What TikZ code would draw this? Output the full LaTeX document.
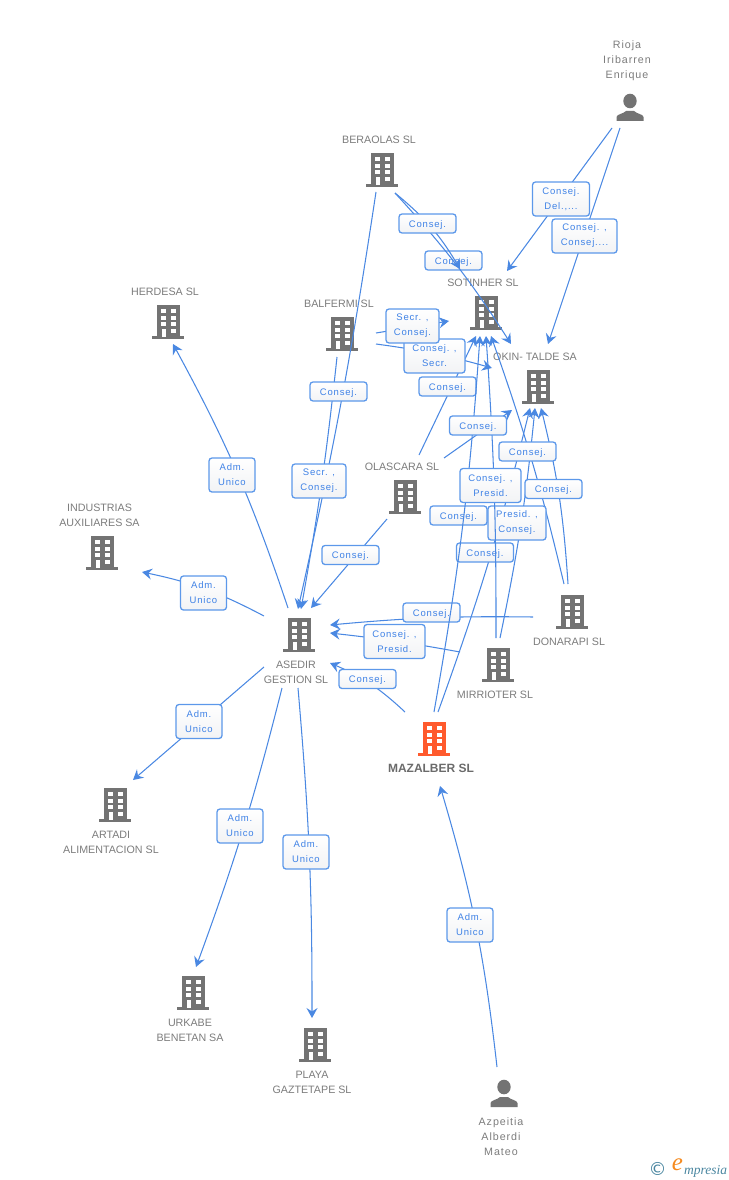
\documentclass[tikz,border=0pt]{standalone}
\usepackage{fontspec}
\usetikzlibrary{calc,arrows.meta}
\setmainfont{Liberation Sans}
\newfontfamily\lblfont[LetterSpace=8.5]{Liberation Sans}
\newfontfamily\lowfont[LetterSpace=9]{Liberation Sans}
\newfontfamily\logofont{Liberation Serif}
\newfontfamily\symfont{DejaVu Sans}
\definecolor{bgray}{HTML}{737373}
\definecolor{borange}{HTML}{FF5A2D}
\definecolor{edgeblue}{HTML}{4A88E2}
\definecolor{boxblue}{HTML}{5C98EA}
\definecolor{lbltext}{HTML}{3F82E6}
\definecolor{nametext}{HTML}{7C7C7C}
\definecolor{teal}{HTML}{4A86A0}
\definecolor{logoorange}{HTML}{F58A1F}
\definecolor{boxlow}{HTML}{F2F3F5}
\tikzset{
  site/.style={inner sep=0pt,minimum width=32,minimum height=34},
  conn/.style={draw=edgeblue,line width=1.05pt,-{Stealth[length=10pt,width=11pt,inset=3.5pt]}},
  lbl/.style={draw=boxblue,line width=1.3pt,rounded corners=3pt,top color=white,bottom color=boxlow,
    inner sep=0pt,minimum width=57,minimum height=19,align=center,text=lbltext,
    font=\lblfont\fontsize{9.5}{15}\selectfont,execute at begin node={\rule{0pt}{9.5pt}}},
  lbltwo/.style={lbl,minimum height=34,execute at begin node={\rule{0pt}{11.5pt}}},
  unameup/.style={inner sep=0pt,align=center,text=nametext,font=\fontsize{10.7}{15}\selectfont},
  uname/.style={inner sep=0pt,align=center,text=nametext,font=\lowfont\fontsize{10.7}{15}\selectfont},
  bldg/.pic={
    \fill[pic actions] (-16,14) rectangle (16,17);
    \fill[pic actions] (-11.5,-17) rectangle (11.5,14.5);
    \fill[white] (-7.3,-13) rectangle (-2.3,-9);
    \fill[white] (2.7,-13) rectangle (7.7,-9);
    \fill[white] (-7.3,-6.3) rectangle (-2.3,-2.3);
    \fill[white] (2.7,-6.3) rectangle (7.7,-2.3);
    \fill[white] (-7.3,0.3) rectangle (-2.3,4.3);
    \fill[white] (2.7,0.3) rectangle (7.7,4.3);
    \fill[white] (-6.3,7) rectangle (-2.3,14.5);
    \fill[white] (2.7,7) rectangle (7.7,11.3);
  },
  person/.pic={
    \fill[pic actions] (0,-7) ellipse [x radius=6.7,y radius=7.3];
    \fill[pic actions] (-13.5,13) -- (-13.5,9) .. controls (-13,6) and (-7,6) .. (-4,3) -- (4,3) .. controls (7,6) and (13,6) .. (13.5,9) -- (13.5,13) -- cycle;
  }
}
\begin{document}
\begin{tikzpicture}[x=1pt,y=-1pt]
\useasboundingbox (0,0) rectangle (728,1180);
% entities
\node[site] (bera) at (382,170) {}; \pic[fill=bgray] at (bera) {bldg};
\node[site] (herd) at (168,322) {}; \pic[fill=bgray] at (herd) {bldg};
\node[site] (balf) at (342,334) {}; \pic[fill=bgray] at (balf) {bldg};
\node[site] (soti) at (486,313) {}; \pic[fill=bgray] at (soti) {bldg};
\node[site] (okin) at (538,387) {}; \pic[fill=bgray] at (okin) {bldg};
\node[site] (olas) at (405,497) {}; \pic[fill=bgray] at (olas) {bldg};
\node[site] (indu) at (102,553) {}; \pic[fill=bgray] at (indu) {bldg};
\node[site] (ased) at (299,635) {}; \pic[fill=bgray] at (ased) {bldg};
\node[site] (dona) at (572,612) {}; \pic[fill=bgray] at (dona) {bldg};
\node[site] (mirr) at (498,665) {}; \pic[fill=bgray] at (mirr) {bldg};
\node[site] (maza) at (434,739) {}; \pic[fill=borange] at (maza) {bldg};
\node[site] (arta) at (115,805) {}; \pic[fill=bgray] at (arta) {bldg};
\node[site] (urka) at (193,993) {}; \pic[fill=bgray] at (urka) {bldg};
\node[site] (play) at (315,1045) {}; \pic[fill=bgray] at (play) {bldg};
\node[site] (rioja) at (630,108) {}; \pic[fill=bgray] at (rioja) {person};
\node[site] (azpe) at (504,1094) {}; \pic[fill=bgray] at (azpe) {person};
% names
\node[unameup] (tbera) at (379,140) {BERAOLAS SL};
\node[unameup] (therd) at (165,292) {HERDESA SL};
\node[unameup] (tbalf) at (339,304) {BALFERMI SL};
\node[unameup] (tsoti) at (483,283) {SOTINHER SL};
\node[unameup] (tokin) at (535,357) {OKIN- TALDE SA};
\node[unameup] (tolas) at (402,467) {OLASCARA SL};
\node[unameup] (tindu) at (99.5,515.5) {INDUSTRIAS\\AUXILIARES SA};
\node[unameup] (tased) at (296,672.5) {ASEDIR\\GESTION SL};
\node[unameup] (tdona) at (569,642) {DONARAPI SL};
\node[unameup] (tmirr) at (495,695) {MIRRIOTER SL};
\node[inner sep=0pt,text=black!58,font=\bfseries\fontsize{12}{15}\selectfont] (tmaza) at (431,768) {MAZALBER SL};
\node[unameup] (tarta) at (111,842.5) {ARTADI\\ALIMENTACION SL};
\node[unameup] (turka) at (190,1030.5) {URKABE\\BENETAN SA};
\node[unameup] (tplay) at (312,1082.5) {PLAYA\\GAZTETAPE SL};
\node[uname] (trioja) at (627,61) {Rioja\\Iribarren\\Enrique};
\node[uname] (tazpe) at (501,1137) {Azpeitia\\Alberdi\\Mateo};
% connectors and their labels, in stacking order
\draw[conn] ($(rioja)+(-18,20)$) -- ($(soti)+(21,-42)$);
\draw[conn] ($(rioja)+(-10,20)$) -- ($(okin)+(10,-43)$);
\draw[conn] ($(balf)+(34,-1)$) -- ($(soti)+(-37,8)$);
\draw[conn] ($(balf)+(34,10)$) to[bend left=4] ($(okin)+(-46,-19)$);
\draw[conn] ($(balf)+(-5,23)$) to[bend left=2] ($(ased)+(2,-26)$);
\draw[conn] ($(bera)+(-6,22)$) to[bend left=2] ($(ased)+(-1,-26)$);
\draw[conn] ($(ased)+(-11,-27)$) to[bend right=5] ($(herd)+(5,22)$);
\draw[conn] ($(ased)+(-35,-19)$) to[bend right=8] ($(indu)+(40,19)$);
\draw[conn] ($(ased)+(-35,32)$) -- ($(arta)+(18,-25)$);
\draw[conn] ($(ased)+(-17,53)$) to[bend left=3] ($(urka)+(3,-26)$);
\draw[conn] ($(ased)+(-1,53)$) to[bend left=2.5] ($(play)+(-3,-27)$);
\draw[conn] ($(olas)+(-18,22)$) -- ($(ased)+(12,-27)$);
\draw[conn] ($(olas)+(14,-42)$) -- ($(soti)+(-10,23)$);
\draw[conn] ($(olas)+(39,-39)$) -- ($(okin)+(-26,23)$);
\draw[conn] ($(dona)+(-39,5)$) to[bend right=3] ($(ased)+(31,-10)$);
\draw[conn] ($(mirr)+(-38,-13)$) to[bend right=2] ($(ased)+(31,-2)$);
\draw[conn] ($(maza)+(-29,-27)$) to[bend right=10] ($(ased)+(31,28)$);
\draw[conn] ($(maza)+(4,-27)$) to[bend right=3] ($(okin)+(-8,21)$);
\draw[conn] ($(mirr)+(2,-27)$) to[bend right=3] ($(okin)+(-3,21)$);
\draw[conn] ($(dona)+(-8,-28)$) to[bend right=3] ($(soti)+(5,23)$);
\draw[conn] ($(dona)+(-4,-28)$) to[bend right=5] ($(okin)+(3,21)$);
\draw[conn] ($(azpe)+(-7,-27)$) to[bend right=5] ($(maza)+(6,47)$);
\node[lbltwo] (l1) at (561,199) {Consej.\\Del.,...};
\node[lbltwo,minimum width=65] (l2) at (584.5,236) {Consej. ,\\Consej....};
\node[lbl] (l4) at (453.5,260.5) {Consej.};
\draw[conn] ($(bera)+(13,23)$) to[bend left=10] ($(soti)+(-26,-44)$);
\draw[conn] ($(bera)+(13,23)$) to[bend left=5] ($(okin)+(-27,-43)$);
\node[lbl] (l3) at (427.5,223.5) {Consej.};
\node[lbltwo,minimum width=61] (l6) at (434.5,356) {Consej. ,\\Secr.};
\node[lbltwo,minimum width=53] (l5) at (412.5,326) {Secr. ,\\Consej.};
\node[lbl] (l7) at (338.5,391.5) {Consej.};
\node[lbl] (l8) at (447.5,386.5) {Consej.};
\node[lbltwo,minimum width=54] (l10) at (319,481) {Secr. ,\\Consej.};
\node[lbl] (l15) at (458.5,515.5) {Consej.};
\node[lbltwo,minimum width=58] (l16) at (517,523) {Presid. ,\\Consej.};
\node[lbl] (l17) at (485,552.5) {Consej.};
\node[lbl] (l18) at (431.5,612.5) {Consej.};
\draw[conn] ($(maza)+(0,-27)$) to[bend right=3] ($(soti)+(-6,23)$);
\draw[conn] ($(mirr)+(-2,-27)$) to[bend right=2] ($(soti)+(0,23)$);
\node[lbl] (l9) at (478,425.5) {Consej.};
\node[lbl] (l11) at (527.5,451.5) {Consej.};
\node[lbltwo,minimum width=61] (l12) at (490.5,485.5) {Consej. ,\\Presid.};
\node[lbl] (l13) at (553.5,489) {Consej.};
\node[lbltwo,minimum width=61] (l19) at (394.5,641.5) {Consej. ,\\Presid.};
\node[lbl] (l20) at (367.5,679) {Consej.};
\node[lbl] (l21) at (350.5,555) {Consej.};
\node[lbltwo,minimum width=46] (a1) at (232,475) {Adm.\\Unico};
\node[lbltwo,minimum width=46] (a2) at (203.5,593) {Adm.\\Unico};
\node[lbltwo,minimum width=46] (a3) at (199,721.5) {Adm.\\Unico};
\node[lbltwo,minimum width=46] (a4) at (240,826) {Adm.\\Unico};
\node[lbltwo,minimum width=46] (a5) at (306,852) {Adm.\\Unico};
\node[lbltwo,minimum width=46] (a6) at (470,925) {Adm.\\Unico};
% logo
\node[inner sep=0pt,text=teal,font=\symfont\fontsize{18}{18}\selectfont] (copy) at (657.5,1169) {©};
\node[inner sep=0pt,text=logoorange,font=\logofont\itshape\fontsize{25}{25}\selectfont] (logoe) at (677.5,1165) {e};
\node[inner sep=0pt,anchor=west,text=teal,font=\logofont\itshape\fontsize{13.5}{14}\selectfont] (logot) at (684,1171) {mpresia};
\end{tikzpicture}
\end{document}
